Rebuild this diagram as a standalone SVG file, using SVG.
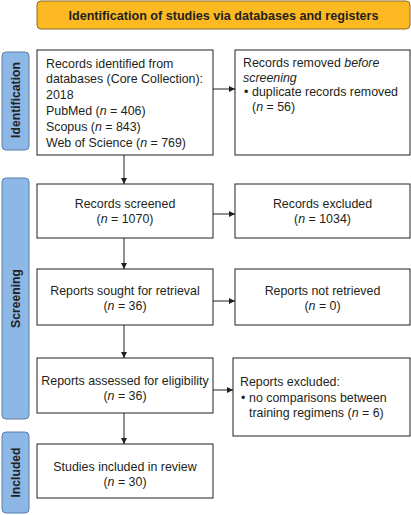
<svg xmlns="http://www.w3.org/2000/svg" width="411" height="515" viewBox="0 0 411 515">
<style>
.box{fill:#fff;stroke:#231f20;stroke-width:1}
.t{font-family:"Liberation Sans",Arial,sans-serif;font-size:12.4px;fill:#231f20}
.c{text-anchor:middle}
.side{fill:#8db8e6;stroke:#5a7fa8;stroke-width:1}
.sl{font-family:"Liberation Sans",Arial,sans-serif;font-size:12.2px;font-weight:bold;fill:#222;text-anchor:middle}
.ln{stroke:#231f20;stroke-width:1;fill:none;marker-end:url(#ah)}
</style>
<defs>
<marker id="ah" viewBox="0 0 10 10" refX="10" refY="5" markerWidth="6" markerHeight="6" markerUnits="userSpaceOnUse" orient="auto">
<path d="M0,0 L10,5 L0,10 z" fill="#231f20"/>
</marker>
</defs>
<rect width="411" height="515" fill="#fff"/>
<g id="banner">
<rect x="37" y="1" width="373" height="28" rx="4" fill="#fdb921" stroke="#8a6a2a" stroke-width="1"/>
<text x="223.5" y="20" class="t c" style="font-weight:bold;font-size:12.6px">Identification of studies via databases and registers</text>
</g>
<g id="side-identification">
<rect class="side" x="2" y="52" width="27" height="98" rx="4"/>
<text class="sl" transform="translate(20,100) rotate(-90)">Identification</text>
</g>
<g id="side-screening">
<rect class="side" x="2" y="178" width="27" height="241" rx="4"/>
<text class="sl" transform="translate(20,298.5) rotate(-90)">Screening</text>
</g>
<g id="side-included">
<rect class="side" x="2" y="432" width="27" height="81" rx="4"/>
<text class="sl" transform="translate(20,472.5) rotate(-90)">Included</text>
</g>
<g id="records-identified">
<rect class="box" x="37" y="50" width="176" height="105"/>
<text class="t" x="46" y="67.5">Records identified from</text>
<text class="t" x="46" y="83.3">databases (Core Collection):</text>
<text class="t" x="46" y="99.1">2018</text>
<text class="t" x="46" y="114.9">PubMed (<tspan font-style="italic">n</tspan> = 406)</text>
<text class="t" x="46" y="130.7">Scopus (<tspan font-style="italic">n</tspan> = 843)</text>
<text class="t" x="46" y="146.5">Web of Science (<tspan font-style="italic">n</tspan> = 769)</text>
</g>
<g id="records-removed">
<rect class="box" x="235" y="50" width="175" height="105"/>
<text class="t" x="243" y="67">Records removed <tspan font-style="italic">before</tspan></text>
<text class="t" x="243" y="81.5" font-style="italic">screening</text>
<text class="t" x="244" y="96">•</text>
<text class="t" x="252" y="96">duplicate records removed</text>
<text class="t" x="252" y="110.5">(<tspan font-style="italic">n</tspan> = 56)</text>
</g>
<g id="records-screened">
<rect class="box" x="37" y="184" width="176" height="54"/>
<text class="t c" x="125" y="208">Records screened</text>
<text class="t c" x="125" y="223">(<tspan font-style="italic">n</tspan> = 1070)</text>
</g>
<g id="records-excluded">
<rect class="box" x="235" y="184" width="175" height="54"/>
<text class="t c" x="322.5" y="208">Records excluded</text>
<text class="t c" x="322.5" y="223">(<tspan font-style="italic">n</tspan> = 1034)</text>
</g>
<g id="reports-sought">
<rect class="box" x="37" y="269" width="176" height="56"/>
<text class="t c" x="125" y="295">Reports sought for retrieval</text>
<text class="t c" x="125" y="310">(<tspan font-style="italic">n</tspan> = 36)</text>
</g>
<g id="reports-not-retrieved">
<rect class="box" x="235" y="269" width="175" height="56"/>
<text class="t c" x="322.5" y="295">Reports not retrieved</text>
<text class="t c" x="322.5" y="310">(<tspan font-style="italic">n</tspan> = 0)</text>
</g>
<g id="reports-assessed">
<rect class="box" x="37" y="358" width="176" height="55"/>
<text class="t c" x="125" y="385">Reports assessed for eligibility</text>
<text class="t c" x="125" y="400">(<tspan font-style="italic">n</tspan> = 36)</text>
</g>
<g id="reports-excluded">
<rect class="box" x="233" y="358" width="177" height="78"/>
<text class="t" x="240" y="385.5">Reports excluded:</text>
<text class="t" x="241" y="402">•</text>
<text class="t" x="249" y="402">no comparisons between</text>
<text class="t" x="249" y="417">training regimens (<tspan font-style="italic">n</tspan> = 6)</text>
</g>
<g id="studies-included">
<rect class="box" x="37" y="444" width="176" height="54"/>
<text class="t c" x="125" y="471">Studies included in review</text>
<text class="t c" x="125" y="486">(<tspan font-style="italic">n</tspan> = 30)</text>
</g>
<g id="connectors">
<line class="ln" x1="124" y1="155" x2="124" y2="184"/>
<line class="ln" x1="124" y1="238" x2="124" y2="269"/>
<line class="ln" x1="124" y1="325" x2="124" y2="358"/>
<line class="ln" x1="124" y1="413" x2="124" y2="444"/>
<line class="ln" x1="213" y1="89" x2="235" y2="89"/>
<line class="ln" x1="213" y1="214" x2="235" y2="214"/>
<line class="ln" x1="213" y1="301" x2="235" y2="301"/>
<line class="ln" x1="213" y1="390" x2="233" y2="390"/>
</g>
</svg>
